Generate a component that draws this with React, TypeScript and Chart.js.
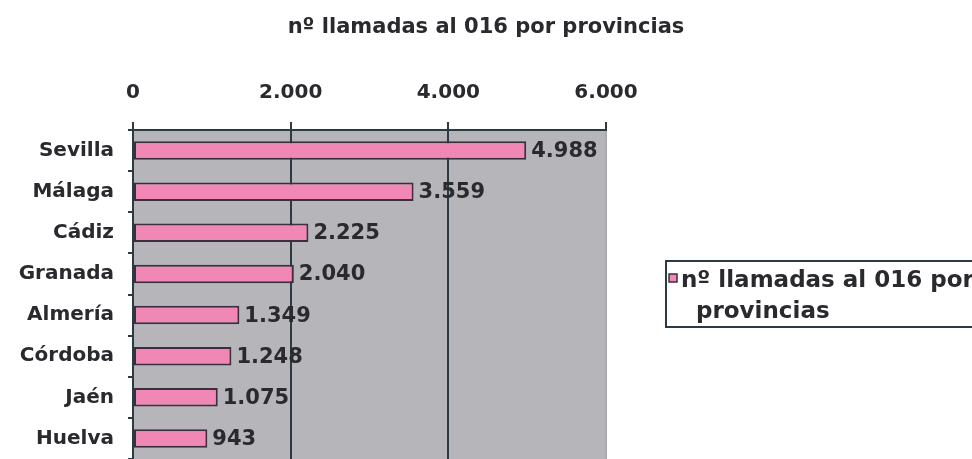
import React, { useEffect, useRef } from "react";
import { Chart, registerables } from "chart.js";

Chart.register(...registerables);

const TITLE = "nº llamadas al 016 por provincias";
const SERIES_LABEL = "nº llamadas al 016 por provincias";
const LEGEND_LINES = ["nº llamadas al 016 por", "provincias"];
const CATEGORIES = ["Sevilla", "Málaga", "Cádiz", "Granada", "Almería", "Córdoba", "Jaén", "Huelva"];
const VALUES = [4988, 3559, 2225, 2040, 1349, 1248, 1075, 943];
const X_MIN = 0;
const X_MAX = 6000;
const X_STEP = 2000;

const FONT = "'DejaVu Sans', sans-serif";
const TEXT = "#2a2a2e";
const DARK = "#2c3a42";
const PLOT_BG = "#b6b6ba";
const BAR_FILL = "#f087b4";
const BAR_BORDER = "#3a2f3e";

const fmt = (v: number) => String(Math.round(v)).replace(/\B(?=(\d{3})+(?!\d))/g, ".");

const bgPlugin = {
  id: "plotBg",
  beforeDraw(chart: any) {
    const { ctx, chartArea: a } = chart;
    ctx.save();
    ctx.fillStyle = "#ffffff";
    ctx.fillRect(0, 0, chart.width, chart.height);
    ctx.fillStyle = PLOT_BG;
    ctx.fillRect(a.left, a.top, a.right - a.left, a.bottom - a.top);
    ctx.restore();
  },
};

const titlePlugin = {
  id: "titleText",
  afterDraw(chart: any) {
    const { ctx } = chart;
    ctx.save();
    ctx.font = `bold 21px ${FONT}`;
    ctx.fillStyle = TEXT;
    ctx.textAlign = "center";
    ctx.textBaseline = "alphabetic";
    ctx.fillText(TITLE, 486, 33);
    ctx.restore();
  },
};

const valueLabelPlugin = {
  id: "valueLabels",
  afterDatasetsDraw(chart: any) {
    const { ctx } = chart;
    const meta = chart.getDatasetMeta(0);
    ctx.save();
    ctx.font = `bold 21px ${FONT}`;
    ctx.fillStyle = TEXT;
    ctx.textAlign = "left";
    ctx.textBaseline = "middle";
    meta.data.forEach((bar: any, i: number) => {
      ctx.fillText(fmt(VALUES[i]), bar.x + 5, bar.y + 1);
    });
    ctx.restore();
  },
};

const legendPlugin = {
  id: "boxLegend",
  afterDraw(chart: any) {
    const { ctx } = chart;
    ctx.save();
    ctx.strokeStyle = DARK;
    ctx.lineWidth = 2;
    ctx.strokeRect(666, 261, 320, 66);
    ctx.fillStyle = BAR_FILL;
    ctx.fillRect(669, 274, 8, 8);
    ctx.strokeStyle = BAR_BORDER;
    ctx.lineWidth = 1.5;
    ctx.strokeRect(669, 274, 8, 8);
    ctx.font = `bold 23px ${FONT}`;
    ctx.fillStyle = TEXT;
    ctx.textAlign = "left";
    ctx.textBaseline = "alphabetic";
    ctx.fillText(LEGEND_LINES[0], 681, 287);
    ctx.fillText(LEGEND_LINES[1], 696, 318);
    ctx.restore();
  },
};

export default function App() {
  const ref = useRef<HTMLCanvasElement | null>(null);
  useEffect(() => {
    if (!ref.current) return;
    const chart = new Chart(ref.current, {
      type: "bar",
      data: {
        labels: CATEGORIES,
        datasets: [
          {
            label: SERIES_LABEL,
            data: VALUES,
            backgroundColor: BAR_FILL,
            borderColor: BAR_BORDER,
            borderWidth: 2,
            borderSkipped: false,
            barPercentage: 0.45,
            categoryPercentage: 1,
          },
        ],
      },
      options: {
        indexAxis: "y",
        animation: false,
        responsive: true,
        maintainAspectRatio: false,
        layout: { padding: { left: 0, right: 366, top: 0, bottom: 0 } },
        plugins: {
          legend: { display: false },
          title: { display: false },
          tooltip: { enabled: false },
        },
        scales: {
          x: {
            type: "linear",
            position: "top",
            min: X_MIN,
            max: X_MAX,
            afterFit(scale: any) {
              scale.height = 130;
            },
            ticks: {
              stepSize: X_STEP,
              padding: 17,
              color: TEXT,
              font: { family: FONT, size: 20, weight: "bold" },
              callback: (v: any) => fmt(Number(v)),
            },
            grid: {
              color: (c: any) => (c.tick && c.tick.value === X_MAX ? "#a9a9ae" : DARK),
              tickColor: DARK,
              lineWidth: 2,
              tickLength: 8,
            },
            border: { display: true, color: DARK, width: 2 },
          },
          y: {
            type: "category",
            afterFit(scale: any) {
              scale.width = 133;
              scale.paddingTop = 0;
              scale.paddingBottom = 0;
            },
            ticks: {
              padding: 14,
              color: TEXT,
              font: { family: FONT, size: 20, weight: "bold" },
            },
            grid: {
              offset: true,
              drawOnChartArea: false,
              color: DARK,
              lineWidth: 2,
              tickLength: 5,
            },
            border: { display: true, color: DARK, width: 2 },
          },
        },
      },
      plugins: [bgPlugin, titlePlugin, valueLabelPlugin, legendPlugin],
    } as any);
    return () => chart.destroy();
  }, []);
  return (
    <div style={{ position: "fixed", left: 0, top: 0, width: 972, height: 459, background: "#fff" }}>
      <canvas ref={ref} />
    </div>
  );
}
